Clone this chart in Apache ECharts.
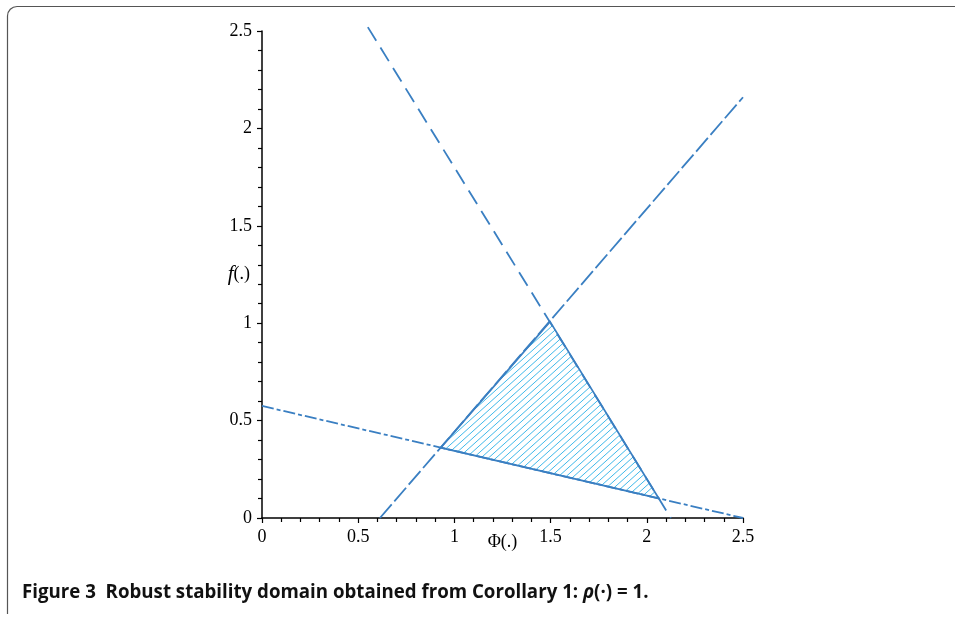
<!DOCTYPE html>
<html>
<head>
<meta charset="utf-8">
<script src="https://cdn.jsdelivr.net/npm/echarts@6/dist/echarts.min.js"></script>
<style>html,body{margin:0;padding:0;background:#fff;}#c{width:955px;height:617px;}</style>
</head>
<body>
<div id="c"></div>
<script>
// Axis ticks
var xTicks = [0, 0.5, 1, 1.5, 2, 2.5];
var yTicks = [0, 0.5, 1, 1.5, 2, 2.5];
// Line endpoints (Φ, f)
var lineA = [[0.55, 2.52], [2.125, 0]];      // steep decreasing
var lineB = [[0.613, 0], [2.5, 2.16]];       // increasing
var lineC = [[0, 0.575], [2.5, 0]];          // shallow decreasing
// Stability domain vertices
var domain = [[0.929, 0.361], [1.497, 1.008], [2.062, 0.101]];

var LC = '#3a7fc2';
var HC = '#40b9ea';
var chart = echarts.init(document.getElementById('c'), null, {renderer: 'canvas'});
var serif = 'Liberation Serif';
function axisCommon() {
  return {
    type: 'value', min: 0, max: 2.5, interval: 0.5,
    axisLine: {show: true, onZero: false, lineStyle: {color: '#000', width: 1.5}},
    axisTick: {show: true, inside: false, length: 5, lineStyle: {color: '#000', width: 1.2}},
    minorTick: {show: true, splitNumber: 5, length: 4, lineStyle: {color: '#000', width: 1.2}},
    splitLine: {show: false},
    axisLabel: {color: '#000', fontFamily: serif, fontSize: 18,
      formatter: function (v) { return String(+v.toFixed(1)); }},
    nameLocation: 'middle',
    nameMoveOverlap: false
  };
}
var xa = axisCommon();
xa.axisLabel.margin = 10;
xa.name = 'Φ(.)';
xa.nameGap = 15;
xa.nameTextStyle = {color: '#000', fontFamily: serif, fontSize: 18};
var ya = axisCommon();
ya.axisLabel.margin = 10;
ya.name = '{i|f}(.)';
ya.nameRotate = 0;
ya.nameGap = 12;
ya.nameTextStyle = {color: '#000', fontFamily: serif, fontSize: 18,
  rich: {i: {fontFamily: serif, fontStyle: 'italic', fontSize: 21, color: '#000'}}};

function lineSeries(data, dash) {
  return {type: 'line', data: data, symbol: 'none', silent: true, clip: false,
    lineStyle: {color: LC, width: 1.8, type: dash}, z: 3};
}
function hatchLines(pts, k, step) {
  var vals = pts.map(function (p) { return p[1] + k * p[0]; });
  var lo = Math.min.apply(null, vals), hi = Math.max.apply(null, vals);
  var out = [];
  for (var c = Math.ceil(lo / step) * step; c <= hi; c += step) {
    var hits = [];
    for (var i = 0; i < pts.length; i++) {
      var p = pts[i], q = pts[(i + 1) % pts.length];
      var fp = vals[i] - c, fq = vals[(i + 1) % pts.length] - c;
      if ((fp <= 0 && fq > 0) || (fp > 0 && fq <= 0)) {
        var t = fp / (fp - fq);
        hits.push([p[0] + t * (q[0] - p[0]), p[1] + t * (q[1] - p[1])]);
      }
    }
    if (hits.length >= 2) {
      out.push({type: 'line', shape: {x1: hits[0][0], y1: hits[0][1], x2: hits[1][0], y2: hits[1][1]},
        style: {stroke: HC, lineWidth: 1}});
    }
  }
  return out;
}
chart.setOption({
  animation: false,
  backgroundColor: '#fff',
  grid: {left: 262, right: 212, top: 31, bottom: 99, containLabel: false},
  xAxis: xa,
  yAxis: ya,
  series: [
    {
      type: 'custom', silent: true, z: 2, clip: false,
      data: domain,
      renderItem: function (params, api) {
        if (params.dataIndex !== 0) return null;
        var pts = domain.map(function (p) { return api.coord(p); });
        var children = hatchLines(pts, 0.9, 6.8);
        children.push({type: 'polygon', shape: {points: pts},
          style: {fill: null, stroke: LC, lineWidth: 1.8}});
        return {type: 'group', children: children};
      }
    },
    lineSeries(lineA, [16, 8]),
    lineSeries(lineB, [18, 4]),
    lineSeries(lineC, [12, 3, 4, 3])
  ],
  graphic: [
    {type: 'line', silent: true, shape: {x1: 7.5, y1: 16, x2: 7.5, y2: 614},
      style: {stroke: '#555', lineWidth: 1.2}},
    {type: 'line', silent: true, shape: {x1: 17, y1: 6.5, x2: 955, y2: 6.5},
      style: {stroke: '#555', lineWidth: 1.2}},
    {type: 'arc', silent: true, shape: {cx: 17, cy: 16, r: 9.5, startAngle: Math.PI, endAngle: Math.PI * 1.5, clockwise: true},
      style: {stroke: '#555', lineWidth: 1.2, fill: null}},
    {type: 'text', left: 22, top: 583, silent: true,
      style: {text: 'Figure 3  Robust stability domain obtained from Corollary 1: {r|ρ}(·) = 1.',
        font: 'bold 18.7px "Open Sans"', fill: '#111',
        rich: {r: {fontStyle: 'italic', fontWeight: 'bold', fontSize: 18.7, fontFamily: 'Open Sans', fill: '#111'}}}}
  ]
});
</script>
</body>
</html>
